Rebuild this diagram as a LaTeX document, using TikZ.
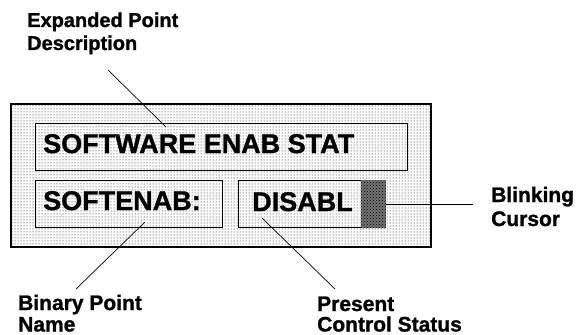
\documentclass[tikz,border=0pt]{standalone}
\usepackage{fontspec}
\setmainfont{Liberation Sans}
\newfontfamily\heavysans[FakeBold=1.2]{Liberation Sans Bold}
\usetikzlibrary{patterns}
\begin{document}
\begin{tikzpicture}[x=1pt,y=-1pt,
  lbl/.style={font=\heavysans\fontsize{21}{23}\selectfont, anchor=base west, inner sep=0pt},
  toplbl/.style={lbl, font=\heavysans\fontsize{20}{23}\selectfont},
  ftext/.style={font=\heavysans\fontsize{27}{30}\selectfont, anchor=base west, inner sep=0pt},
  field/.style={draw=black, line width=0.8pt},
  panel/.style={draw=black, line width=2.6pt, pattern=dots, pattern color=black},
  cursorblk/.style={fill=black!55, draw=none},
  leader/.style={draw=black, line width=0.7pt}]
\useasboundingbox (0,0) rectangle (577,334);

% display panel with stippled background
\draw[panel] (11,104) rectangle (431,247);

% display fields
\draw[field] (35,123) rectangle (407,170);
\draw[field] (35,180) rectangle (222,227);
\draw[field] (238,180) rectangle (361,227);
\path[cursorblk] (361,180) rectangle (386,228);
\path[pattern=crosshatch dots, pattern color=black] (361,180) rectangle (386,228);
\coordinate (cur) at (386,204);

% field contents
\node[ftext] (desc) at (43,153) {SOFTWARE ENAB STAT};
\node[ftext] (pname) at (43,210) {SOFTENAB:};
\node[ftext] (pstat) at (252,211) {DISABL};

% callout labels
\node[toplbl] (expA) at (27,27) {Expanded Point};
\node[toplbl] (expB) at (27,50) {Description};
\node[lbl] (binA) at (18,310) {Binary Point};
\node[lbl] (binB) at (18,331.5) {Name};
\node[lbl] (preA) at (317,311) {Present};
\node[lbl] (preB) at (317,331.5) {Control Status};
\node[lbl] (blkA) at (491,202) {Blinking};
\node[lbl] (blkB) at (491,226) {Cursor};

% leader line end points
\coordinate (expS) at (108,70);
\coordinate (expE) at (166,127);
\coordinate (binS) at (76,289);
\coordinate (binE) at (145,222);
\coordinate (preS) at (335,289);
\coordinate (preE) at (262,218);
\coordinate (blkE) at (473,204);

\draw[leader] (expS) -- (expE);
\draw[leader] (binS) -- (binE);
\draw[leader] (preS) -- (preE);
\draw[leader] (cur) -- (blkE);
\end{tikzpicture}
\end{document}
